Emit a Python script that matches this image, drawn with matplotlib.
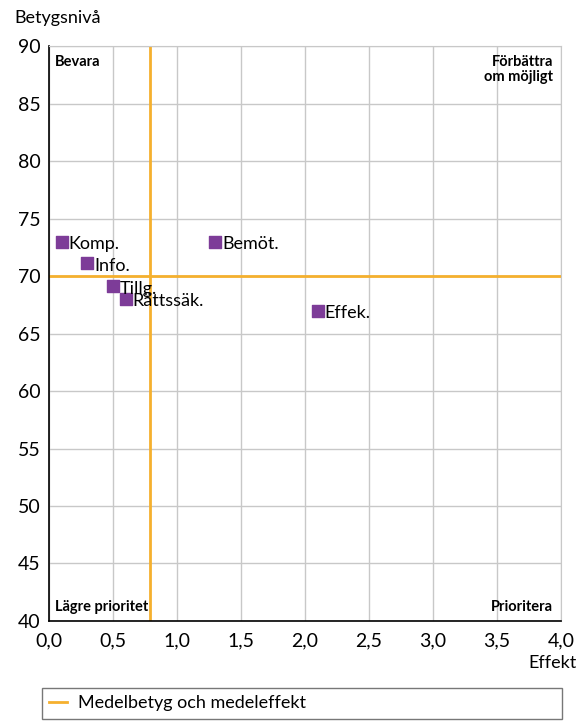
import matplotlib
matplotlib.use("Agg")
import matplotlib.pyplot as plt
from matplotlib.lines import Line2D

plt.rcParams['font.family'] = ['Lato', 'DejaVu Sans']

labels = ["Komp.", "Info.", "Tillg.", "Rättssäk.", "Bemöt.", "Effek."]
effekt = [0.1, 0.3, 0.5, 0.6, 1.3, 2.1]
betyg = [73, 71.1, 69.1, 68.0, 73, 67.0]
medel_effekt = 0.79
medel_betyg = 70
xticks = [0, 0.5, 1, 1.5, 2, 2.5, 3, 3.5, 4]
yticks = [40, 45, 50, 55, 60, 65, 70, 75, 80, 85, 90]

orange = "#F5B02E"
purple = "#7D3C98"
grid = "#c8c8c8"

fig = plt.figure(figsize=(5.85, 7.22), dpi=100)
ax = fig.add_axes([0.0838, 0.140, 0.875, 0.796])

ax.set_xlim(0, 4)
ax.set_ylim(40, 90)
ax.set_xticks(xticks)
ax.set_yticks(yticks)
ax.set_xticklabels([f"{t:.1f}".replace(".", ",") for t in xticks], fontsize=14)
ax.set_yticklabels([str(t) for t in yticks], fontsize=14)
ax.tick_params(axis="x", length=0, pad=8)
ax.tick_params(axis="y", length=0, pad=6)
ax.grid(True, color=grid, linewidth=1)
ax.set_axisbelow(True)
for s in ["top", "right"]:
    ax.spines[s].set_color(grid)
for s in ["left", "bottom"]:
    ax.spines[s].set_color("black")
    ax.spines[s].set_linewidth(1.2)

ax.axvline(medel_effekt, color=orange, linewidth=2, zorder=2)
ax.axhline(medel_betyg, color=orange, linewidth=2, zorder=2)

ax.scatter(effekt, betyg, marker="s", s=75, color=purple, zorder=3)
for x, y, lab in zip(effekt, betyg, labels):
    ax.annotate(lab, (x, y), xytext=(5, -1.5), textcoords="offset points",
                va="center", ha="left", fontsize=13, zorder=4)

qfont = dict(fontsize=10.5, fontweight="bold")
ax.text(0.012, 0.985, "Bevara", transform=ax.transAxes, ha="left", va="top", **qfont)
ax.text(0.985, 0.985, "Förbättra\nom möjligt", transform=ax.transAxes, ha="right",
        va="top", linespacing=1.1, **qfont)
ax.text(0.012, 0.012, "Lägre prioritet", transform=ax.transAxes, ha="left",
        va="bottom", **qfont)
ax.text(0.985, 0.012, "Prioritera", transform=ax.transAxes, ha="right",
        va="bottom", **qfont)

fig.text(0.024, 0.975, "Betygsnivå", ha="left", va="center", fontsize=13)
fig.text(0.985, 0.082, "Effekt", ha="right", va="center", fontsize=13)

handle = Line2D([], [], color=orange, linewidth=2)
leg = fig.legend([handle], ["Medelbetyg och medeleffekt"], loc="upper left",
                 bbox_to_anchor=(0.072, 0.003, 0.889, 0.044), mode="expand",
                 borderaxespad=0, fontsize=13, frameon=True, fancybox=False,
                 handlelength=1.0, handletextpad=0.6, borderpad=0.4)
leg.get_frame().set_edgecolor("#555555")
leg.get_frame().set_linewidth(1)

fig.savefig("out.png", dpi=100)
